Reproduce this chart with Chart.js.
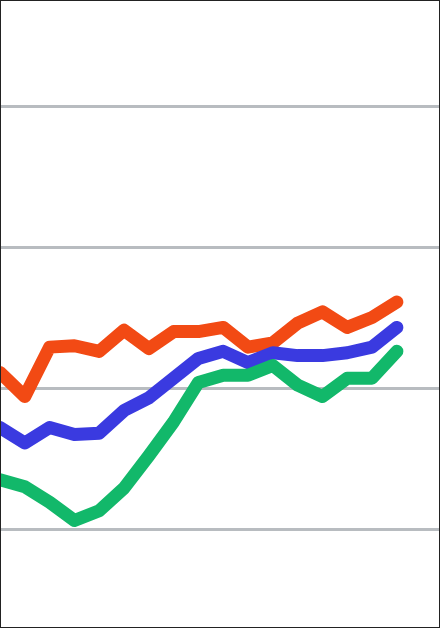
<!DOCTYPE html>
<html><head><meta charset="utf-8">
<script src="https://cdn.jsdelivr.net/npm/chart.js@4"></script>
<style>html,body{margin:0;padding:0;background:#fff}#w{position:relative;width:440px;height:628px}
#f{position:absolute;left:0;top:0;width:438px;height:626px;border:1px solid #222;pointer-events:none}</style>
</head><body><div id="w"><canvas id="c" width="440" height="628"></canvas><div id="f"></div></div>
<script>
const categories = [0,1,2,3,4,5,6,7,8,9,10,11,12,13,14,15,16];
const orangeValues = [1.11,0.94,1.29,1.30,1.26,1.41,1.28,1.40,1.40,1.43,1.29,1.32,1.46,1.54,1.43,1.50,1.61];
const blueValues = [0.72,0.61,0.72,0.67,0.68,0.84,0.93,1.07,1.21,1.26,1.18,1.25,1.23,1.23,1.25,1.29,1.43];
const greenValues = [0.35,0.30,0.19,0.06,0.13,0.29,0.52,0.76,1.04,1.09,1.09,1.16,1.02,0.94,1.07,1.07,1.26];
const yTicks = [0,1,2,3];
const mk = (vals, color) => ({data: categories.map((c,i)=>({x:c,y:vals[i]})), borderColor: color, borderWidth: 13, pointRadius: 0, fill:false, tension:0, borderJoinStyle:'round', borderCapStyle:'round'});
new Chart(document.getElementById('c'), {
  type: 'line',
  data: {datasets: [mk(greenValues,'#12b86a'), mk(blueValues,'#3a3ae0'), mk(orangeValues,'#f24a14')]},
  options: {
    responsive:false, animation:false, layout:{padding:0},
    plugins:{legend:{display:false}, tooltip:{enabled:false}},
    scales:{
      x:{type:'linear', min:0, max:17.74, display:false},
      y:{min:-0.702, max:3.752, border:{display:false}, ticks:{display:false},
         afterBuildTicks:(ax)=>{ax.ticks = yTicks.map(v=>({value:v}));},
         grid:{color:'#b8bcc0', lineWidth:3, drawTicks:false}}
    }
  }
});
</script></body></html>
